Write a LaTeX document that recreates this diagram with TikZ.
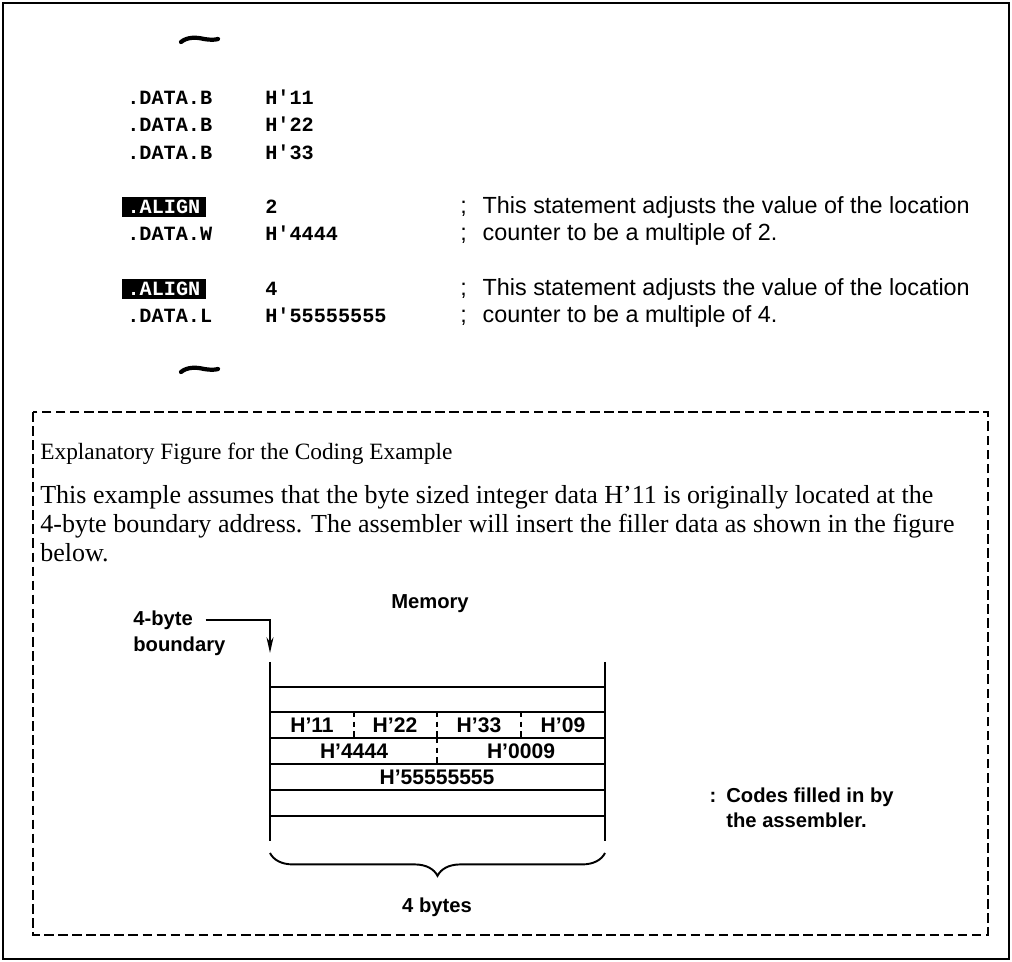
\documentclass[tikz,border=0pt]{standalone}
\usepackage{fontspec}
\setmainfont{Liberation Serif}
\setsansfont{Liberation Sans}
\setmonofont{Liberation Mono}
\usetikzlibrary{arrows.meta, positioning, decorations.pathreplacing}

\begin{document}
\begin{tikzpicture}[x=0.02cm, y=-0.02cm]

  % styles
  \tikzstyle{code} = [anchor=base west, inner sep=0pt, font=\fontsize{11.5}{13}\selectfont\ttfamily\bfseries]
  \tikzstyle{hilite} = [code, fill=black, text=white, inner xsep=3pt, inner ysep=1.8pt]
  \tikzstyle{remark} = [anchor=base west, inner sep=0pt, font=\fontsize{13.3}{15}\selectfont\sffamily]
  \tikzstyle{heading} = [anchor=base west, inner sep=0pt, font=\fontsize{13.3}{16}\selectfont\rmfamily]
  \tikzstyle{prose} = [anchor=base west, inner sep=0pt, font=\fontsize{14.8}{17}\selectfont\rmfamily]
  \tikzstyle{lbl} = [inner sep=0pt, font=\fontsize{11.5}{13}\selectfont\sffamily\bfseries]
  \tikzstyle{memcell} = [inner sep=0pt, font=\fontsize{12}{14}\selectfont\sffamily\bfseries]
  \tikzstyle{memline} = [line width=1.1pt]
  \tikzstyle{divider} = [line width=1pt, dash pattern=on 3pt off 2.5pt]
  \tikzstyle{squiggle} = [line width=2.4pt, line cap=round]
  \tikzstyle{arrow} = [line width=0.9pt, -{Stealth[length=9pt, width=4pt]}]

  % frames
  \useasboundingbox (0,0) rectangle (1012,962);
  \draw [line width=1.2pt] (3,3) rectangle (1009,959);
  \draw [line width=1.1pt, dash pattern=on 5.5pt off 2.5pt] (33,412) rectangle (988,935);

  % coding example
  \draw [squiggle] (181,42) .. controls (187,37) and (196,37) .. (204,39) .. controls (210,40) and (215,40) .. (218,39);

  \node (db1) [code] at (127,105) {.DATA.B};
  \node (v11) [code] at (265,105) {H'11};
  \node (db2) [code] at (127,132) {.DATA.B};
  \node (v22) [code] at (265,132) {H'22};
  \node (db3) [code] at (127,160) {.DATA.B};
  \node (v33) [code] at (265,160) {H'33};

  \node (align2) [hilite] at (122,214) {.ALIGN};
  \node (arg2) [code] at (265,214) {2};
  \node (rem2a) [remark] at (460,214) {;\hspace{9pt}This statement adjusts the value of the location};
  \node (dw) [code] at (127,241) {.DATA.W};
  \node (v4444) [code] at (265,241) {H'4444};
  \node (rem2b) [remark] at (460,241) {;\hspace{9pt}counter to be a multiple of 2.};

  \node (align4) [hilite] at (122,296) {.ALIGN};
  \node (arg4) [code] at (265,296) {4};
  \node (rem4a) [remark] at (460,296) {;\hspace{9pt}This statement adjusts the value of the location};
  \node (dl) [code] at (127,323) {.DATA.L};
  \node (v5555) [code] at (265,323) {H'55555555};
  \node (rem4b) [remark] at (460,323) {;\hspace{9pt}counter to be a multiple of 4.};

  \draw [squiggle] (181,372) .. controls (187,367) and (196,367) .. (204,369) .. controls (210,370) and (215,370) .. (218,369);

  % explanation
  \node (title) [heading] at (40,460) {Explanatory Figure for the Coding Example};
  \node (para1) [prose] at (40,504) {This example assumes that the byte sized integer data H'11 is originally located at the};
  \node (para2) [prose] at (40,533) {4-byte boundary address.  The assembler will insert the filler data as shown in the figure};
  \node (para3) [prose] at (40,562) {below.};

  % memory figure
  \node (memory) [lbl] at (430,604) {Memory};
  \node (fourbyte) [lbl, anchor=west] at (133,620) {4-byte};
  \node (boundary) [lbl, anchor=west] at (133,646) {boundary};
  \coordinate (bndtip) at (270,653);
  \draw [arrow, shorten <=7pt] (fourbyte.east) -| (bndtip);

  \draw [memline] (270,662) -- (270,841) (605,662) -- (605,841);
  \draw [memline] (270,687) -- (605,687) (270,712) -- (605,712) (270,738) -- (605,738)
                  (270,764) -- (605,764) (270,790) -- (605,790) (270,816) -- (605,816);
  \draw [divider] (354,712) -- (354,738) (437,712) -- (437,738) (521,712) -- (521,738) (437,738) -- (437,764);

  \node (h11) [memcell] at (312,725) {H'11};
  \node (h22) [memcell] at (395,725) {H'22};
  \node (h33) [memcell] at (479,725) {H'33};
  \node (h09) [memcell] at (563,725) {H'09};
  \node (h4444) [memcell] at (354,751) {H'4444};
  \node (h0009) [memcell] at (521,751) {H'0009};
  \node (h5555) [memcell] at (437,777) {H'55555555};

  \draw [memline, decorate, decoration={brace, mirror, amplitude=13pt}] (270,853) -- (605,853);
  \node (bytes) [lbl] at (437,907) {4 bytes};

  % legend
  \node (colon) [lbl] at (713,797) {:};
  \node (codes) [lbl, anchor=west] at (726,797) {Codes filled in by};
  \node (asm) [lbl, below=3pt of codes.south west, anchor=north west] {the assembler.};

\end{tikzpicture}
\end{document}
